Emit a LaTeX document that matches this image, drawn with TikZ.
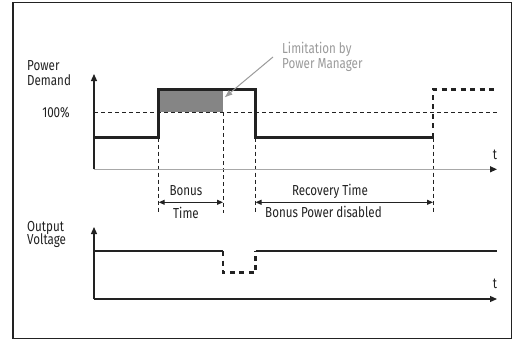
\documentclass[tikz,border=0pt]{standalone}
\usepackage{fontspec}
\setmainfont[FakeStretch=0.8]{Fira Sans}
\usetikzlibrary{arrows.meta}
\definecolor{curve}{HTML}{222222}
\definecolor{fillgray}{HTML}{858585}
\definecolor{notegray}{HTML}{9A9A9A}
\definecolor{axisgray}{HTML}{A8A8A8}
\tikzset{
  x=1pt,y=-1pt,
  lbl/.style={font=\fontsize{14.5}{17}\selectfont, inner sep=0pt, text=curve},
  axisline/.style={line width=1.2pt, draw=curve, -{Triangle[length=7pt,width=6pt,color=curve]}},
  level/.style={line width=2.8pt, draw=curve},
  dlevel/.style={line width=2.8pt, draw=curve, dash pattern=on 5pt off 4.5pt},
  guide/.style={line width=0.9pt, draw=curve, dash pattern=on 4pt off 3pt},
  span/.style={line width=1pt, draw=curve, {Triangle[length=6pt,width=5pt]}-{Triangle[length=6pt,width=5pt]}},
}
\begin{document}
\begin{tikzpicture}
\useasboundingbox (0,0) rectangle (516,340);
\draw[line width=1.2pt, draw=curve] (13,2.5) rectangle (511.5,338.5);

% named origins
\coordinate (o1) at (94,169.3);
\coordinate (o2) at (94,299);

% labels
\node[lbl, anchor=base west] (pw) at (27,70) {Power};
\node[lbl, anchor=base west] (dm) at (27,85) {Demand};
\node[lbl, anchor=base east] (pc) at (70,117) {100\%};
\node[lbl, anchor=base west] (ou) at (27,231) {Output};
\node[lbl, anchor=base west] (vo) at (27,244) {Voltage};
\node[lbl, anchor=base] (t1) at (495,159) {t};
\node[lbl, anchor=base] (t2) at (495,288) {t};
\node[lbl, anchor=base] (bo) at (186,195.7) {Bonus};
\node[lbl, anchor=base] (ti) at (186,218) {Time};
\node[lbl, anchor=base] (rt) at (330,195.5) {Recovery Time};
\node[lbl, anchor=base west] (bd) at (265,217.5) {Bonus Power disabled};
\node[lbl, anchor=base west, text=notegray] (lb) at (282,53.5) {Limitation by};
\node[lbl, anchor=base west, text=notegray] (pm) at (282,68.5) {Power Manager};

% gray fill (limited area)
\fill[fillgray] (158.7,89.3) rectangle (223,112.3);

% 100% reference line
\draw[guide] (94,112.3) -- (497,112.3);

% vertical guides
\draw[guide] (158.7,137.7) -- (158.7,213);
\draw[guide] (223,112.3) -- (223,213);
\draw[guide] (255.5,137.7) -- (255.5,213);
\draw[guide] (433,137.7) -- (433,213);

% spans
\draw[span] (158.7,202.3) -- (223,202.3);
\draw[span] (255.5,202.3) -- (433,202.3);

% axes
\draw[line width=1.2pt, draw=axisgray, -{Triangle[length=7pt,width=6pt,color=curve]}] (o1) -- (497,169.3);
\draw[axisline] (o1) -- (94,74);
\draw[axisline] (o2) -- (497,299);
\draw[axisline] (o2) -- (94,227);

% power demand curve
\draw[level, line join=miter] (94,137.7) -- (158.7,137.7) -- (158.7,89.3) -- (255.5,89.3) -- (255.5,137.7) -- (433,137.7);
\draw[dlevel] (433,137.7) -- (433,89.3) -- (497,89.3);

% output voltage curve
\draw[level] (94,251) -- (223,251);
\draw[dlevel] (223,251) -- (223,272.7) -- (255.7,272.7) -- (255.7,251);
\draw[level] (255.7,251) -- (497,251);

% limitation note arrow
\draw[line width=1pt, draw=notegray, -{Latex[length=8pt,width=6pt]}] (273,57) -- (224.5,97.5);
\end{tikzpicture}
\end{document}
